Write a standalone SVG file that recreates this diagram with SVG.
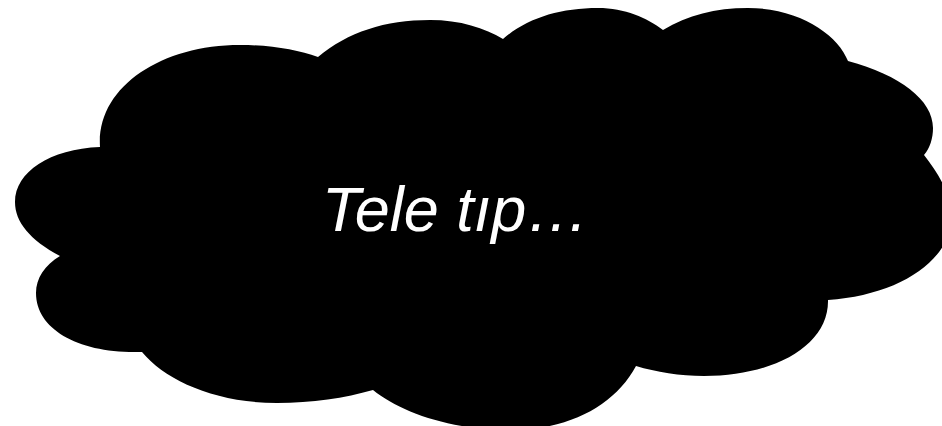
<svg xmlns="http://www.w3.org/2000/svg" width="942" height="426" viewBox="0 0 942 426">
<style>
.cloud{fill:#000;stroke:none}
.lbl{font-family:"Liberation Sans",Arial,sans-serif;font-style:italic;font-size:63px;fill:#fff}
</style>
<rect width="942" height="426" fill="#fff"/>
<g id="cloud">
<path class="cloud" d="M100,147 C96,88 160,45 240,45 C272,45 298,50 318,57 C348,32 385,20 430,20 C460,20 485,28 503,39 C527,18 560,8 598,8 C625,8 647,18 663,30 C688,15 715,8 748,8 C800,8 838,35 848,61 C900,75 933,100 933,128 C933,138 930,148 924,155 C940,175 952,198 952,215 C952,260 900,295 828,300 C829,345 775,376 704,376 C680,376 656,372 636,366 C615,405 570,430 510,430 C450,430 400,412 373,390 C345,398 312,403 277,403 C215,403 165,380 142,352 C80,354 36,330 36,293 C36,278 45,265 60,256 C30,240 15,222 15,202 C15,172 50,149 100,147 Z"/>
<text class="lbl" x="322" y="231">Tele tıp…</text>
</g>
<g id="connectors"/>
</svg>
